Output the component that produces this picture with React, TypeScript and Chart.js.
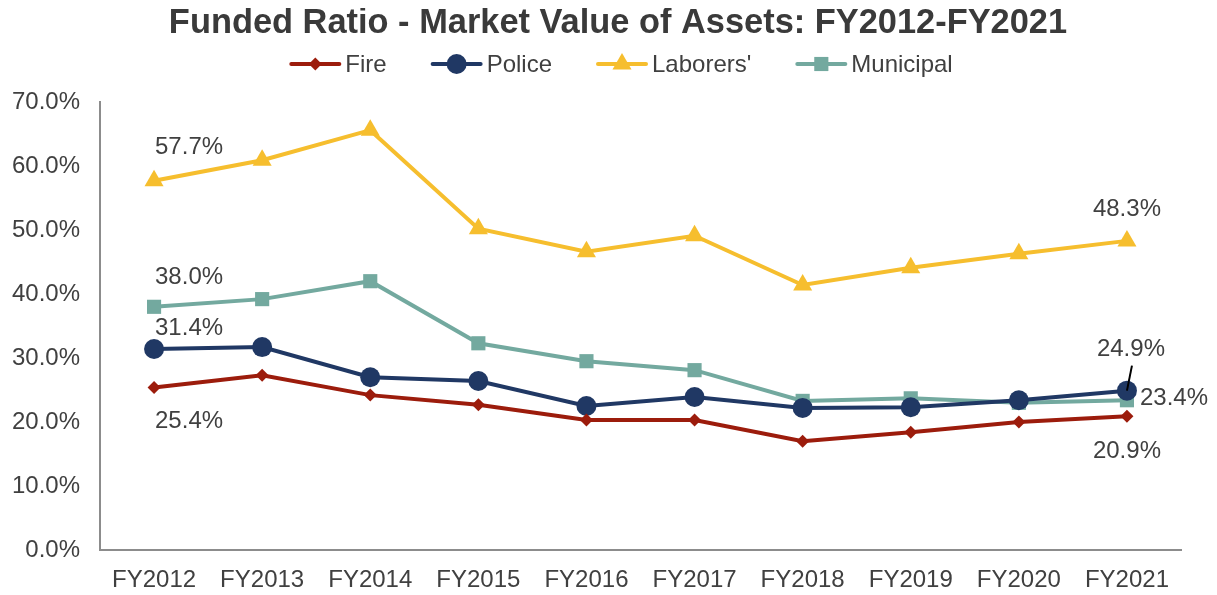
import React, { useEffect, useRef } from 'react';
import { Chart, registerables } from 'chart.js';

Chart.register(...registerables);

const categories = ['FY2012', 'FY2013', 'FY2014', 'FY2015', 'FY2016', 'FY2017', 'FY2018', 'FY2019', 'FY2020', 'FY2021'];
const fire = [25.4, 27.3, 24.2, 22.7, 20.3, 20.3, 17.0, 18.4, 20.0, 20.9];
const police = [31.4, 31.7, 27.0, 26.4, 22.5, 23.9, 22.2, 22.3, 23.4, 24.9];
const laborers = [57.7, 60.9, 65.6, 50.2, 46.6, 49.1, 41.4, 44.1, 46.3, 48.3];
const municipal = [38.0, 39.2, 42.0, 32.3, 29.5, 28.1, 23.3, 23.7, 23.0, 23.4];
const yTicks = [0, 10, 20, 30, 40, 50, 60, 70];
const titleText = 'Funded Ratio - Market Value of Assets: FY2012-FY2021';

const FONT = 'Arial, "Liberation Sans", sans-serif';
const TEXT = '#404040';
const TITLE_COLOR = '#3A3A3A';

type Series = { label: string; data: number[]; color: string; style: string; radius: number };
const series: Series[] = [
  { label: 'Fire', data: fire, color: '#9C1C0C', style: 'rectRot', radius: 6.5 },
  { label: 'Police', data: police, color: '#203864', style: 'circle', radius: 10 },
  { label: "Laborers'", data: laborers, color: '#F6BE2E', style: 'triangle', radius: 11 },
  { label: 'Municipal', data: municipal, color: '#73A99F', style: 'rect', radius: 10 },
];

// label placement: [datasetIndex, pointIndex, dx, dy, align]
const labelSpecs: [number, number, number, number, CanvasTextAlign][] = [
  [2, 0, 35, -33, 'center'],
  [3, 0, 35, -29, 'center'],
  [1, 0, 35, -21, 'center'],
  [0, 0, 35, 34, 'center'],
  [2, 9, 0, -32, 'center'],
  [1, 9, 4, -41, 'center'],
  [3, 9, 13, -2, 'left'],
  [0, 9, 0, 35, 'center'],
];

function drawMarker(ctx: CanvasRenderingContext2D, style: string, x: number, y: number, r: number) {
  ctx.beginPath();
  if (style === 'circle') {
    ctx.arc(x, y, r, 0, Math.PI * 2);
  } else if (style === 'rect') {
    const s = r * Math.SQRT1_2;
    ctx.rect(x - s, y - s, 2 * s, 2 * s);
  } else if (style === 'rectRot') {
    ctx.moveTo(x, y - r);
    ctx.lineTo(x + r, y);
    ctx.lineTo(x, y + r);
    ctx.lineTo(x - r, y);
    ctx.closePath();
  } else if (style === 'triangle') {
    for (let i = 0; i < 3; i++) {
      const a = (i * 2 * Math.PI) / 3;
      const px = x + Math.sin(a) * r;
      const py = y - Math.cos(a) * r;
      if (i === 0) ctx.moveTo(px, py);
      else ctx.lineTo(px, py);
    }
    ctx.closePath();
  }
  ctx.fill();
}

const headerPlugin = {
  id: 'header',
  afterDraw(chart: any) {
    const ctx = chart.ctx as CanvasRenderingContext2D;
    ctx.save();
    // title
    ctx.font = `bold 34.4px ${FONT}`;
    ctx.fillStyle = TITLE_COLOR;
    ctx.textAlign = 'center';
    ctx.textBaseline = 'alphabetic';
    ctx.fillText(titleText, 610, 25);
    // legend
    ctx.font = `24px ${FONT}`;
    const lineW = 52;
    const gapText = 4;
    const gapItem = 44;
    const widths = series.map((s) => lineW + gapText + ctx.measureText(s.label).width);
    const total = widths.reduce((a, b) => a + b, 0) + gapItem * (series.length - 1);
    let x = 613 - total / 2;
    const ly = 56;
    series.forEach((s, i) => {
      ctx.strokeStyle = s.color;
      ctx.fillStyle = s.color;
      ctx.lineWidth = 4;
      ctx.lineCap = 'round';
      ctx.beginPath();
      ctx.moveTo(x + 2, ly);
      ctx.lineTo(x + lineW - 2, ly);
      ctx.stroke();
      drawMarker(ctx, s.style, x + lineW / 2, ly, s.radius);
      ctx.fillStyle = TEXT;
      ctx.textAlign = 'left';
      ctx.fillText(s.label, x + lineW + gapText, 64);
      x += widths[i] + gapItem;
    });
    ctx.restore();
  },
};

const labelPlugin = {
  id: 'endLabels',
  afterDatasetsDraw(chart: any) {
    const ctx = chart.ctx as CanvasRenderingContext2D;
    ctx.save();
    ctx.font = `24px ${FONT}`;
    ctx.fillStyle = TEXT;
    ctx.textBaseline = 'middle';
    for (const [di, pi, dx, dy, align] of labelSpecs) {
      const pt = chart.getDatasetMeta(di).data[pi];
      if (!pt) continue;
      const v = chart.data.datasets[di].data[pi] as number;
      ctx.textAlign = align;
      ctx.fillText(v.toFixed(1) + '%', pt.x + dx, pt.y + dy);
    }
    // leader line for Police last label
    const p = chart.getDatasetMeta(1).data[9];
    if (p) {
      ctx.strokeStyle = '#000000';
      ctx.lineWidth = 2;
      ctx.beginPath();
      ctx.moveTo(p.x + 5, p.y - 25);
      ctx.lineTo(p.x, p.y);
      ctx.stroke();
    }
    ctx.restore();
  },
};

export default function App() {
  const ref = useRef<HTMLCanvasElement>(null);
  useEffect(() => {
    if (!ref.current) return;
    const chart = new Chart(ref.current, {
      type: 'line',
      data: {
        labels: categories,
        datasets: series.map((s) => ({
          label: s.label,
          data: s.data,
          borderColor: s.color,
          backgroundColor: s.color,
          pointBackgroundColor: s.color,
          pointBorderColor: s.color,
          pointBorderWidth: 0,
          borderWidth: 4,
          pointStyle: s.style as any,
          pointRadius: s.radius,
          pointHoverRadius: s.radius,
          tension: 0,
          fill: false,
        })),
      },
      options: {
        animation: false,
        responsive: true,
        maintainAspectRatio: false,
        layout: { padding: { left: 0, right: 28, top: 94, bottom: 0 } },
        plugins: {
          title: { display: false },
          legend: { display: false },
          tooltip: { enabled: false },
        },
        scales: {
          x: {
            offset: true,
            grid: { display: false, drawTicks: false },
            border: { display: true, color: '#8C8C8C', width: 2 },
            ticks: { color: TEXT, font: { family: FONT, size: 24 }, padding: 16, maxRotation: 0, autoSkip: false },
            afterFit: (s: any) => {
              s.height = 43;
            },
          },
          y: {
            min: 0,
            max: 70,
            grid: { display: false, drawTicks: false },
            border: { display: true, color: '#8C8C8C', width: 2 },
            afterBuildTicks: (s: any) => {
              s.ticks = yTicks.map((v) => ({ value: v }));
            },
            ticks: {
              color: TEXT,
              font: { family: FONT, size: 24 },
              padding: 20,
              callback: (v: any) => Number(v).toFixed(1) + '%',
            },
            afterFit: (s: any) => {
              s.width = 92;
            },
          },
        },
      },
      plugins: [labelPlugin, headerPlugin],
    });
    return () => chart.destroy();
  }, []);
  return (
    <div style={{ width: 1201, height: 585, position: 'relative' }}>
      <canvas ref={ref} />
    </div>
  );
}
